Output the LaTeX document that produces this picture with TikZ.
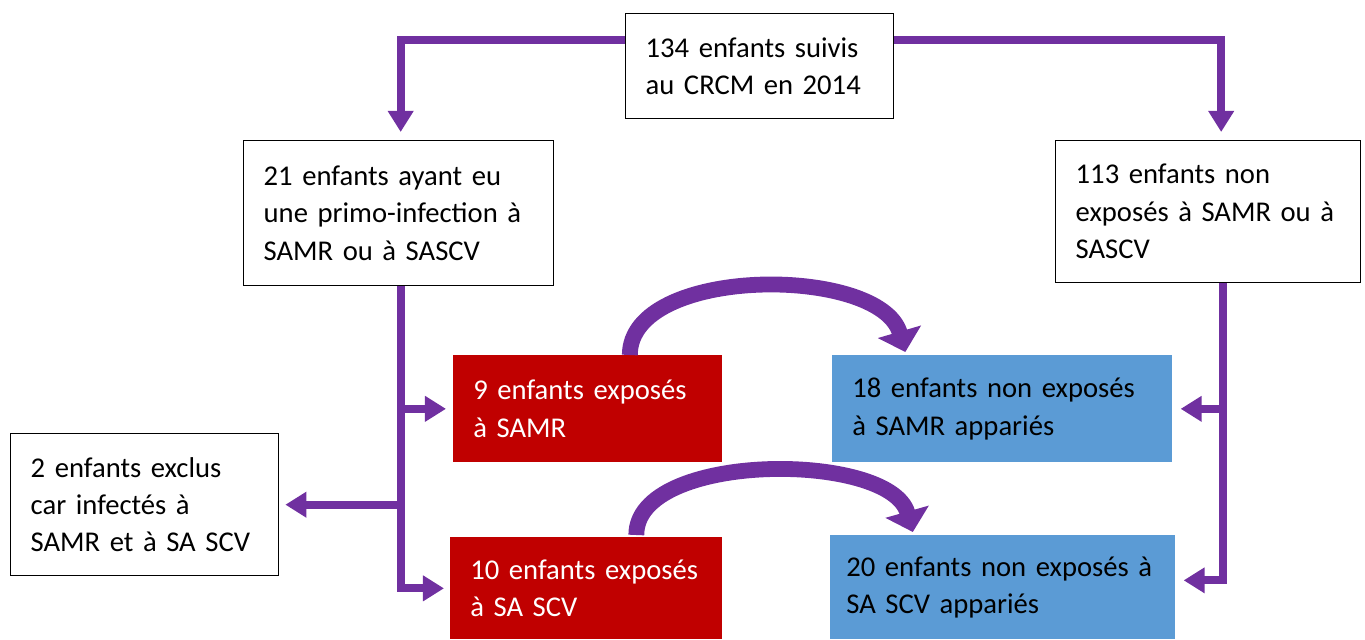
\documentclass[tikz,border=0pt]{standalone}
\usepackage{fontspec}
\setmainfont{Carlito}
\usetikzlibrary{arrows.meta,calc}
\definecolor{flowpurple}{HTML}{7030A0}
\definecolor{flowred}{HTML}{C00000}
\definecolor{flowblue}{HTML}{5B9BD5}

\begin{document}
\begin{tikzpicture}[x=0.02cm, y=-0.02cm,
  every node/.style={font=\fontsize{16.3}{21.3}\selectfont},
  box/.style={draw=black, line width=0.8pt, align=left, inner xsep=0.4cm, inner ysep=0pt, anchor=north west},
  redbox/.style={fill=flowred, text=white, align=left, inner xsep=0.4cm, inner ysep=0pt, anchor=north west},
  bluebox/.style={fill=flowblue, text=black, align=left, inner xsep=0.4cm, inner ysep=0pt, anchor=north west},
  conn/.style={draw=flowpurple, line width=4.5pt, -{Triangle[width=14pt,length=12pt]}},
  curvearrow/.style={draw=flowpurple, line width=9pt, -{Triangle[width=25pt,length=12pt]}}]
\useasboundingbox (0,0) rectangle (1365,639);
\node[box, minimum width=5.36cm, minimum height=2.1cm, text width=4.56cm] (top) at (625,13) {134 enfants suivis\\au CRCM en 2014};
\node[box, minimum width=6.2cm, minimum height=2.9cm, text width=5.4cm] (left) at (243,140) {21 enfants ayant eu\\une primo-infection à\\SAMR ou à SASCV};
\node[box, minimum width=6.1cm, minimum height=2.84cm, text width=5.3cm] (right) at (1055,140) {113 enfants non\\exposés à SAMR ou à\\SASCV};
\node[redbox, minimum width=5.38cm, minimum height=2.14cm, text width=4.58cm] (red9) at (453,355) {9 enfants exposés\\à SAMR};
\node[bluebox, minimum width=6.8cm, minimum height=2.14cm, text width=6cm] (blue18) at (832,355) {18 enfants non exposés\\à SAMR appariés};
\node[box, minimum width=5.36cm, minimum height=2.84cm, text width=4.56cm] (excl) at (10,433) {2 enfants exclus\\car infectés à\\SAMR et à SA SCV};
\node[redbox, minimum width=5.44cm, minimum height=2.04cm, text width=4.64cm] (red10) at (450,537) {10 enfants exposés\\à SA SCV};
\node[bluebox, inner xsep=0.32cm, minimum width=6.9cm, minimum height=2.08cm, text width=6.26cm] (blue20) at (830,535) {20 enfants non exposés à\\SA SCV appariés};
\coordinate (trunkL) at ($(left.south)+(2,0)$);
\coordinate (trunkR) at ($(right.south)+(15,0)$);
\draw[conn] ($(top.north west)+(0,27)$) -| ($(left.north)+(2,-8)$);
\draw[conn] ($(top.north east)+(0,27)$) -| ($(right.north)+(13,-8)$);
\draw[conn] (trunkL) |- ($(red10.west)+(-6,0)$);
\draw[conn] (trunkL |- red9.west) -- ($(red9.west)+(-7,0)$);
\draw[conn] (trunkL |- excl.east) -- ($(excl.east)+(6,0)$);
\draw[conn] (trunkR) |- ($(blue20.east)+(8,-7)$);
\draw[conn] (trunkR |- blue18.east) -- ($(blue18.east)+(8,0)$);
\draw[curvearrow] ($(red9.north)+(42,0)$) .. controls (630,265) and (880,265) .. ($(blue18.north)+(-97,-3)$);
\draw[curvearrow] ($(red10.north)+(50,-2)$) .. controls (636,451) and (890,451) .. ($(blue20.north)+(-90,-3)$);
\end{tikzpicture}
\end{document}
